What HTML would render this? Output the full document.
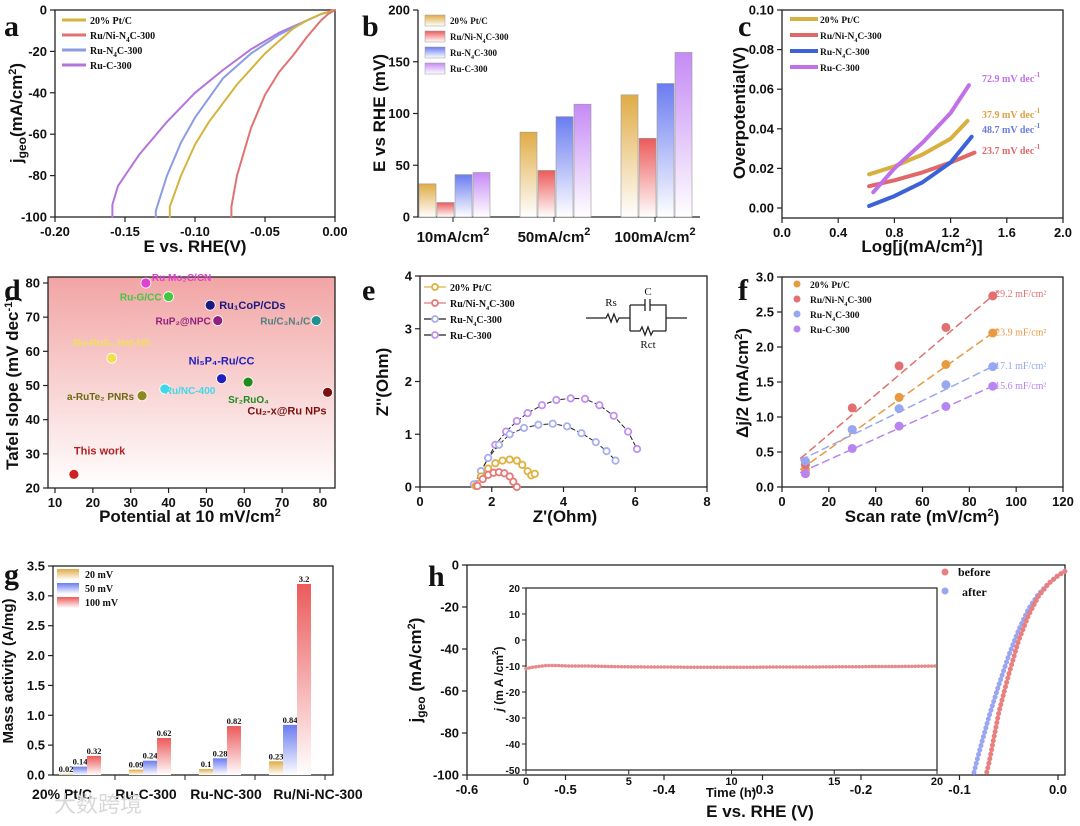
<!DOCTYPE html>
<html><head><meta charset="utf-8">
<style>
html,body{margin:0;padding:0;background:#fff;}
svg{display:block;font-family:"Liberation Sans",Arial,sans-serif;}
.ser{font-family:"Liberation Serif","Times New Roman",serif;}
</style></head>
<body>
<svg id="fig" width="1080" height="826" viewBox="0 0 1080 826" xmlns="http://www.w3.org/2000/svg">
<defs>
<linearGradient id="gGold" x1="0" y1="0" x2="0" y2="1"><stop offset="0" stop-color="#e0ac45"/><stop offset="1" stop-color="#fff"/></linearGradient>
<linearGradient id="gRed" x1="0" y1="0" x2="0" y2="1"><stop offset="0" stop-color="#ec5a5a"/><stop offset="1" stop-color="#fff"/></linearGradient>
<linearGradient id="gBlue" x1="0" y1="0" x2="0" y2="1"><stop offset="0" stop-color="#6a7cf0"/><stop offset="1" stop-color="#fff"/></linearGradient>
<linearGradient id="gPurp" x1="0" y1="0" x2="0" y2="1"><stop offset="0" stop-color="#c58af5"/><stop offset="1" stop-color="#fff"/></linearGradient>
<linearGradient id="gPink" x1="0" y1="0" x2="0" y2="1"><stop offset="0" stop-color="#f2a4a4"/><stop offset="1" stop-color="#fff"/></linearGradient>
</defs>
</svg>
<script>
// ---------- data ----------
// panel a
const aSeries = ['20% Pt/C','Ru/Ni-N4C-300','Ru-N4C-300','Ru-C-300'];
const aPtE = [0,-0.01,-0.02,-0.03,-0.05,-0.07,-0.09,-0.1,-0.11,-0.118,-0.118];
const aPtJ = [0,-2,-5,-9,-21,-36,-54,-65,-80,-95,-100];
const aNiE = [0,-0.005,-0.01,-0.02,-0.03,-0.04,-0.05,-0.06,-0.07,-0.074,-0.074];
const aNiJ = [0,-2,-5,-13,-22,-30,-41,-57,-80,-95,-100];
const aN4E = [0,-0.01,-0.02,-0.04,-0.06,-0.08,-0.1,-0.11,-0.12,-0.128,-0.128];
const aN4J = [0,-2,-5,-12,-21,-33,-52,-64,-80,-97,-100];
const aCE = [0,-0.01,-0.02,-0.04,-0.06,-0.08,-0.1,-0.12,-0.14,-0.155,-0.159,-0.159];
const aCJ = [0,-2,-5,-11,-19,-29,-40,-54,-70,-85,-94,-100];
// panel b
const bCats = ['10mA/cm²','50mA/cm²','100mA/cm²'];
const bPt = [32,82,118];
const bNi = [14,45,76];
const bN4 = [41,97,129];
const bC = [43,109,159];
// panel c
const cPtX=[0.62,0.8,1.0,1.2,1.32], cPtY=[0.017,0.021,0.027,0.035,0.044];
const cNiX=[0.62,0.8,1.0,1.2,1.37], cNiY=[0.011,0.014,0.018,0.023,0.028];
const cN4X=[0.62,0.8,1.0,1.2,1.35], cN4Y=[0.001,0.006,0.013,0.023,0.036];
const cCX=[0.65,0.8,1.0,1.2,1.33], cCY=[0.008,0.02,0.033,0.048,0.062];
const cLabels=['72.9 mV dec','37.9 mV dec','48.7 mV dec','23.7 mV dec'];
// panel d
const dNames=['This work','a-RuTe₂ PNRs','Ru/NC-400','Ru Mo₂C/CN','Ru-G/CC','Ru₁CoP/CDs','RuP₂@NPC','Ru/C₃N₄/C','Ni₅P₄-Ru/CC','Sr₂RuO₄','Cu₂-x@Ru NPs','Ru-RuS₂ Het-NS'];
const dPot=[15,33,39,34,40,51,53,79,54,61,82,25];
const dTafel=[24,47,49,80,76,73.5,69,69,52,51,48,58];
// panel e
const eCX=[1.55,1.7,1.9,2.1,2.4,2.7,3.0,3.4,3.8,4.2,4.6,5.0,5.4,5.8,6.05];
const eCY=[0.05,0.3,0.55,0.8,1.05,1.25,1.4,1.55,1.65,1.68,1.67,1.55,1.35,1.05,0.72];
const eN4X=[1.5,1.7,1.9,2.2,2.5,2.9,3.3,3.7,4.1,4.5,4.9,5.2,5.45];
const eN4Y=[0.05,0.3,0.55,0.8,1.0,1.12,1.18,1.2,1.15,1.02,0.85,0.68,0.5];
const ePtX=[1.55,1.7,1.9,2.1,2.3,2.5,2.7,2.85,3.0,3.1,3.2];
const ePtY=[0.02,0.2,0.35,0.45,0.5,0.52,0.5,0.42,0.3,0.22,0.25];
const eNiX=[1.6,1.75,1.9,2.05,2.2,2.35,2.5,2.6,2.7];
const eNiY=[0.02,0.15,0.23,0.27,0.28,0.26,0.2,0.1,0.0];
// panel f
const fRate=[10,30,50,70,90];
const fPt=[0.25,0.82,1.28,1.75,2.2];
const fNi=[0.32,1.13,1.73,2.28,2.73];
const fN4=[0.37,0.82,1.12,1.46,1.72];
const fC=[0.19,0.55,0.87,1.15,1.44];
const fLabels=['29.2 mF/cm²','23.9 mF/cm²','17.1 mF/cm²','15.6 mF/cm²'];
// panel g
const gCats=['20% Pt/C','Ru-C-300','Ru-NC-300','Ru/Ni-NC-300'];
const g20=[0.02,0.09,0.1,0.23];
const g50=[0.14,0.24,0.28,0.84];
const g100=[0.32,0.62,0.82,3.2];
// panel h
const hBefE=[0.007,0,-0.01,-0.02,-0.03,-0.04,-0.05,-0.06,-0.065,-0.07,-0.073];
const hBefJ=[-3,-5,-9,-15,-24,-36,-52,-70,-82,-94,-100];
const hAftE=[0.007,0,-0.01,-0.02,-0.03,-0.04,-0.05,-0.06,-0.07,-0.08,-0.086];
const hAftJ=[-3,-5,-9,-14,-21,-31,-43,-57,-72,-89,-100];
const hTime=[0,0.3,0.6,1,1.5,2,3,4,5,6,7,8,9,10,11,12,13,14,15,16,17,18,19,20];
const hCur=[-11,-10.5,-10.2,-9.8,-9.8,-10,-10,-10.2,-10.3,-10.4,-10.4,-10.5,-10.5,-10.5,-10.5,-10.4,-10.4,-10.4,-10.3,-10.3,-10.2,-10.2,-10.1,-10];

// ---------- helpers ----------
const NS='http://www.w3.org/2000/svg';
const svg=document.getElementById('fig');
function mk(tag,attrs,name,parent){
  const el=document.createElementNS(NS,tag);
  for(const k in attrs) el.setAttribute(k,attrs[k]);
  
  
  (parent||svg).appendChild(el);
  return el;
}
function txt(x,y,s,name,opt){
  opt=opt||{};
  const t=mk('text',{x:x,y:y,'font-size':opt.size||12,'font-weight':opt.weight||'bold','text-anchor':opt.anchor||'middle',fill:opt.fill||'#111'},name,opt.parent);
  if(opt.rot) t.setAttribute('transform','rotate(-90 '+x+' '+y+')');
  if(opt.cls) t.setAttribute('class',opt.cls);
  t.innerHTML=s;
  return t;
}
function lin(d0,d1,r0,r1){return v=>r0+(v-d0)*(r1-r0)/(d1-d0);}
function frame(L,T,R,B,name){mk('rect',{x:L,y:T,width:R-L,height:B-T,fill:'none',stroke:'#222','stroke-width':1.3},name);}
function xTicks(vals,sx,B,fmt,name,size){
  vals.forEach(v=>{const x=sx(v);
    mk('line',{x1:x,y1:B,x2:x,y2:B+5,stroke:'#222','stroke-width':1.2},name+'-tick');
    txt(x,B+19,fmt(v),name+'-label',{size:size||13});});
}
function yTicks(vals,sy,L,fmt,name,size){
  vals.forEach(v=>{const y=sy(v);
    mk('line',{x1:L-5,y1:y,x2:L,y2:y,stroke:'#222','stroke-width':1.2},name+'-tick');
    txt(L-8,y+4.5,fmt(v),name+'-label',{size:size||13,anchor:'end'});});
}
function poly(xs,ys,sx,sy,stroke,w,name,dash){
  const pts=xs.map((v,i)=>sx(v).toFixed(1)+','+sy(ys[i]).toFixed(1)).join(' ');
  const p=mk('polyline',{points:pts,fill:'none',stroke:stroke,'stroke-width':w,'stroke-linejoin':'round','stroke-linecap':'round'},name);
  if(dash) p.setAttribute('stroke-dasharray',dash);
  return p;
}
function letter(x,y,s,name){txt(x,y,s,name,{size:30,anchor:'start',cls:'ser'});}

// ---------- panel a ----------
(function(){
  const L=55,R=335,T=10,B=217;
  const sx=lin(-0.2,0,L,R), sy=lin(0,-100,T,B);
  frame(L,T,R,B,'panel-a-frame');
  xTicks([-0.2,-0.15,-0.1,-0.05,0],sx,B,v=>v.toFixed(2),'panel-a-x-tick');
  yTicks([0,-20,-40,-60,-80,-100],sy,L,v=>String(v),'panel-a-y-tick');
  const cols=['#d4b43c','#e07272','#8c9ce2','#b474dc'];
  poly(aCE,aCJ,sx,sy,cols[3],2,'series-ru-c-300');
  poly(aN4E,aN4J,sx,sy,cols[2],2,'series-ru-n4c-300');
  poly(aPtE,aPtJ,sx,sy,cols[0],2,'series-pt-c');
  poly(aNiE,aNiJ,sx,sy,cols[1],2,'series-ru-ni-n4c-300');
  const labs=['20% Pt/C','Ru/Ni-N<tspan font-size="7" dy="3">4</tspan><tspan dy="-3">C-300</tspan>','Ru-N<tspan font-size="7" dy="3">4</tspan><tspan dy="-3">C-300</tspan>','Ru-C-300'];
  labs.forEach((s,i)=>{const y=20+i*15;
    mk('line',{x1:62,y1:y,x2:86,y2:y,stroke:cols[i],'stroke-width':3},'legend-line');
    txt(90,y+4,s,'legend-entry',{size:10,anchor:'start',cls:'ser'});});
  txt(195,252,'E vs. RHE(V)','panel-a-x-title',{size:17});
  txt(22,113,'j<tspan font-size="12" dy="4">geo</tspan><tspan dy="-4">(mA/cm</tspan><tspan font-size="11" dy="-6">2</tspan><tspan dy="6">)</tspan>','panel-a-y-title',{size:17,rot:true});
  letter(4,36,'a','panel-a-letter');
})();

// ---------- panel b ----------
(function(){
  const L=418,R=700,T=10,B=217;
  const sy=lin(0,200,B,T);
  const bw=17, centers=bCats.map((c,i)=>453+i*101);
  mk('line',{x1:L,y1:T,x2:L,y2:B,stroke:'#222','stroke-width':1.3},'panel-b-y-axis');
  mk('line',{x1:L,y1:B,x2:R,y2:B,stroke:'#222','stroke-width':1.3},'panel-b-x-axis');
  yTicks([0,50,100,150,200],sy,L,v=>String(v),'panel-b-y-tick');
  const series=[bPt,bNi,bN4,bC], fills=['url(#gGold)','url(#gRed)','url(#gBlue)','url(#gPurp)'], nm=['bar-pt-c','bar-ru-ni','bar-ru-n4c','bar-ru-c'];
  bCats.forEach((c,i)=>{
    series.forEach((s,k)=>{const x=centers[i]-2*bw+k*(bw+1);
      mk('rect',{x:x,y:sy(s[i]),width:bw,height:B-sy(s[i]),fill:fills[k],stroke:'#999','stroke-width':0.6},nm[k]);});
    mk('line',{x1:centers[i],y1:B,x2:centers[i],y2:B+5,stroke:'#222'},'panel-b-x-tick');
    txt(centers[i],B+25,c.replace('²','<tspan font-size="11" dy="-7">2</tspan>'),'panel-b-category-label',{size:15});
  });
  const labs=['20% Pt/C','Ru/Ni-N<tspan font-size="6" dy="3">4</tspan><tspan dy="-3">C-300</tspan>','Ru-N<tspan font-size="6" dy="3">4</tspan><tspan dy="-3">C-300</tspan>','Ru-C-300'];
  labs.forEach((s,i)=>{const y=15+i*16;
    mk('rect',{x:425,y:y,width:20,height:11,fill:fills[i],stroke:'#999','stroke-width':0.5},'legend-swatch');
    txt(450,y+9,s,'legend-entry',{size:9,anchor:'start',cls:'ser'});});
  txt(385,113,'E vs RHE (mV)','panel-b-y-title',{size:17,rot:true});
  letter(362,36,'b','panel-b-letter');
})();

// ---------- panel c ----------
(function(){
  const L=782,R=1063,T=10,B=218;
  const sx=lin(0,2,L,R), sy=lin(0,0.1,208,T);
  frame(L,T,R,B,'panel-c-frame');
  xTicks([0,0.4,0.8,1.2,1.6,2.0],sx,B,v=>v.toFixed(1),'panel-c-x-tick');
  yTicks([0,0.02,0.04,0.06,0.08,0.1],sy,L,v=>v.toFixed(2),'panel-c-y-tick');
  const cols=['#d8b040','#e06868','#3c62d8','#c070e8'];
  poly(cPtX,cPtY,sx,sy,cols[0],4,'series-pt-c');
  poly(cNiX,cNiY,sx,sy,cols[1],4,'series-ru-ni-n4c-300');
  poly(cN4X,cN4Y,sx,sy,cols[2],4,'series-ru-n4c-300');
  poly(cCX,cCY,sx,sy,cols[3],4,'series-ru-c-300');
  const labs=['20% Pt/C','Ru/Ni-N<tspan font-size="6" dy="3">4</tspan><tspan dy="-3">C-300</tspan>','Ru-N<tspan font-size="6" dy="3">4</tspan><tspan dy="-3">C-300</tspan>','Ru-C-300'];
  labs.forEach((s,i)=>{const y=19+i*16;
    mk('line',{x1:790,y1:y,x2:818,y2:y,stroke:cols[i],'stroke-width':4},'legend-line');
    txt(820,y+4,s,'legend-entry',{size:9.5,anchor:'start',cls:'ser'});});
  const ly=[82,118,133,154], lc=[cols[3],'#e0a040','#6a7ce0',cols[1]];
  cLabels.forEach((s,i)=>txt(982,ly[i],s+'<tspan font-size="7" dy="-5">-1</tspan>','tafel-slope-label',{size:10,fill:lc[i],cls:'ser',anchor:'start'}));
  txt(922,252,'Log[j(mA/cm<tspan font-size="11" dy="-6">2</tspan><tspan dy="6">)]</tspan>','panel-c-x-title',{size:17});
  txt(745,113,'Overpotential(V)','panel-c-y-title',{size:17,rot:true});
  letter(738,36,'c','panel-c-letter');
})();

// ---------- panel d ----------
(function(){
  const L=48,R=335,T=277,B=488;
  const sx=lin(10,80,55,320), sy=lin(20,80,B,283);
  mk('rect',{x:L,y:T,width:R-L,height:B-T,fill:'url(#gPink)'},'panel-d-background');
  frame(L,T,R,B,'panel-d-frame');
  xTicks([10,20,30,40,50,60,70,80],sx,B,v=>String(v),'panel-d-x-tick');
  yTicks([20,30,40,50,60,70,80],sy,L,v=>String(v),'panel-d-y-tick');
  const cols=['#cc2222','#8a8a20','#40d8e8','#e040d0','#40c840','#1a1a80','#902080','#209090','#2020c0','#208a20','#7a1010','#f0e050'];
  const lab=[[0,-20,'start'],[-8,4,'end'],[0,5,'start'],[6,-2,'start'],[-7,4,'end'],[9,4,'start'],[-7,4,'end'],[-6,4,'end'],[0,-14,'middle'],[-20,21,'start'],[-1,22,'end'],[0,-12,'middle']];
  const lfill=['#b02020','#6a6a10','#40d8e8','#e040d0','#40c840','#1a1a80','#902080','#508080','#2020c0','#208a20','#7a1010','#f0e060'];
  dNames.forEach((n,i)=>{const x=sx(dPot[i]), y=sy(dTafel[i]);
    mk('circle',{cx:x,cy:y,r:5,fill:cols[i],stroke:'#fff','stroke-width':0.8},'comparison-point');
    txt(x+lab[i][0],y+lab[i][1],n,'comparison-label',{size:i===0||i===5||i===8||i===10?11:10,anchor:lab[i][2],fill:lfill[i]});});
  txt(190,522,'Potential at 10 mV/cm<tspan font-size="11" dy="-6">2</tspan>','panel-d-x-title',{size:17});
  txt(18,383,'Tafel slope (mV dec<tspan font-size="11" dy="-6">-1</tspan><tspan dy="6">)</tspan>','panel-d-y-title',{size:17,rot:true});
  letter(4,300,'d','panel-d-letter');
})();

// ---------- panel e ----------
(function(){
  const L=420,R=707,T=276,B=487;
  const sx=lin(0,8,L,R), sy=lin(0,4,B,T);
  frame(L,T,R,B,'panel-e-frame');
  xTicks([0,2,4,6,8],sx,B,v=>String(v),'panel-e-x-tick');
  yTicks([0,1,2,3,4],sy,L,v=>String(v),'panel-e-y-tick');
  const cols=['#e0b040','#e87878','#a8b0f0','#c090f0'];
  const sets=[[eCX,eCY,3,'series-ru-c-300'],[eN4X,eN4Y,2,'series-ru-n4c-300'],[ePtX,ePtY,0,'series-pt-c'],[eNiX,eNiY,1,'series-ru-ni-n4c-300']];
  sets.forEach(s=>{
    poly(s[0],s[1],sx,sy,s[2]>=2?'#222':cols[s[2]],1,s[3]+'-line',s[2]>=2?'4,3':null);
    s[0].forEach((v,i)=>mk('circle',{cx:sx(v),cy:sy(s[1][i]),r:3.2,fill:'#fff',stroke:cols[s[2]],'stroke-width':1.8},s[3]+'-point'));});
  const labs=['20% Pt/C','Ru/Ni-N<tspan font-size="6" dy="3">4</tspan><tspan dy="-3">C-300</tspan>','Ru-N<tspan font-size="6" dy="3">4</tspan><tspan dy="-3">C-300</tspan>','Ru-C-300'];
  labs.forEach((s,i)=>{const y=287+i*16;
    mk('line',{x1:424,y1:y,x2:446,y2:y,stroke:i>=2?'#222':cols[i],'stroke-width':1.3},'legend-line');
    mk('circle',{cx:435,cy:y,r:3,fill:'#fff',stroke:cols[i],'stroke-width':1.8},'legend-marker');
    txt(450,y+4,s,'legend-entry',{size:10,anchor:'start',cls:'ser'});});
  const c=mk('g',{stroke:'#222','stroke-width':1.3,fill:'none'},'equivalent-circuit');
  mk('path',{d:'M586 318 H606 l2 -4 l3 8 l3 -8 l3 8 l2 -4 H630 M630 305 V331 M630 305 H645 M645 299 V311 M650 299 V311 M650 305 H666 V331 M630 331 H640 l2 -4 l3 8 l3 -8 l3 8 l2 -4 H666 M666 318 H687'},'circuit-wires',c);
  txt(611,306,'Rs','circuit-rs-label',{size:11,weight:'normal',cls:'ser'});
  txt(648,295,'C','circuit-c-label',{size:11,weight:'normal',cls:'ser'});
  txt(648,348,'Rct','circuit-rct-label',{size:11,weight:'normal',cls:'ser'});
  txt(565,522,"Z'(Ohm)",'panel-e-x-title',{size:17});
  txt(388,382,"Z''(Ohm)",'panel-e-y-title',{size:17,rot:true});
  letter(362,300,'e','panel-e-letter');
})();

// ---------- panel f ----------
(function(){
  const L=782,R=1063,T=277,B=487;
  const sx=lin(0,120,L,R), sy=lin(0,3,B,T);
  frame(L,T,R,B,'panel-f-frame');
  xTicks([0,20,40,60,80,100,120],sx,B,v=>String(v),'panel-f-x-tick');
  yTicks([0,0.5,1,1.5,2,2.5,3],sy,L,v=>v.toFixed(1),'panel-f-y-tick');
  const cols=['#e89a40','#e27070','#98a8f0','#b884f0'];
  const ser=[fPt,fNi,fN4,fC], nm=['series-pt-c','series-ru-ni-n4c-300','series-ru-n4c-300','series-ru-c-300'];
  ser.forEach((s,k)=>{
    const ex=[fRate[0]-2,fRate[fRate.length-1]+2];
    const slope=(s[s.length-1]-s[0])/(fRate[fRate.length-1]-fRate[0]);
    const ey=[s[0]-2*slope+(k===1?0.15:0.05),s[s.length-1]+2*slope];
    poly(ex,ey,sx,sy,cols[k],1.5,nm[k]+'-fit','7,5');
    fRate.forEach((r,i)=>mk('circle',{cx:sx(r),cy:sy(s[i]),r:4.5,fill:cols[k]},nm[k]+'-point'));
  });
  const lc=['#e27070','#e89a40','#98a8f0','#b884f0'], ly=[2.77,2.22,1.74,1.46];
  fLabels.forEach((s,i)=>txt(sx(91),sy(ly[i])+4,s,'capacitance-label',{size:10,anchor:'start',fill:lc[i],weight:'normal',cls:'ser'}));
  const labs=['20% Pt/C','Ru/Ni-N<tspan font-size="6" dy="3">4</tspan><tspan dy="-3">C-300</tspan>','Ru-N<tspan font-size="6" dy="3">4</tspan><tspan dy="-3">C-300</tspan>','Ru-C-300'];
  labs.forEach((s,i)=>{const y=284+i*15;
    mk('circle',{cx:797,cy:y,r:3.5,fill:cols[i]},'legend-marker');
    txt(810,y+4,s,'legend-entry',{size:9.5,anchor:'start',cls:'ser'});});
  txt(922,522,'Scan rate (mV/cm<tspan font-size="11" dy="-6">2</tspan><tspan dy="6">)</tspan>','panel-f-x-title',{size:17});
  txt(748,383,'Δj/2 (mA/cm<tspan font-size="11" dy="-6">2</tspan><tspan dy="6">)</tspan>','panel-f-y-title',{size:17,rot:true});
  letter(738,300,'f','panel-f-letter');
})();

// ---------- panel g ----------
(function(){
  const L=53,R=333,T=566,B=775;
  const sy=lin(0,3.5,B,T);
  frame(L,T,R,B,'panel-g-frame');
  yTicks([0,0.5,1,1.5,2,2.5,3,3.5],sy,L,v=>v.toFixed(1),'panel-g-y-tick');
  const bw=14, ser=[g20,g50,g100], fills=['url(#gGold)','url(#gBlue)','url(#gRed)'], nm=['bar-20mv','bar-50mv','bar-100mv'];
  const labX=[62,146,226,318];
  gCats.forEach((c,i)=>{const cx=80+i*70;
    ser.forEach((s,k)=>{const x=cx-21+k*bw;
      mk('rect',{x:x,y:sy(s[i]),width:bw,height:B-sy(s[i]),fill:fills[k]},nm[k]);
      txt(x+bw/2,sy(s[i])-2,String(s[i]),'bar-value-label',{size:8.5,cls:'ser'});});
    mk('line',{x1:cx+35,y1:B,x2:cx+35,y2:B+5,stroke:'#222'},'panel-g-x-tick');
    txt(labX[i],B+24,c,'panel-g-category-label',{size:14});
  });
  const labs=['20 mV','50 mV','100 mV'];
  labs.forEach((s,i)=>{const y=569+i*14;
    mk('rect',{x:57,y:y,width:22,height:11,fill:fills[i]},'legend-swatch');
    txt(85,y+9,s,'legend-entry',{size:10,anchor:'start',cls:'ser'});});
  txt(13,671,'Mass activity (A/mg)','panel-g-y-title',{size:15,rot:true});
  letter(4,584,'g','panel-g-letter');
  txt(54,812,'大数跨境','watermark',{size:22,weight:'normal',fill:'#d8d8d8',anchor:'start',cls:''}).setAttribute('font-family','"Liberation Sans","Noto Sans CJK SC",sans-serif');
})();

// ---------- panel h ----------
(function(){
  const L=467,R=1065,T=565,B=775;
  const sx=lin(-0.6,0,L,1058), sy=lin(0,-100,T,B);
  frame(L,T,R,B,'panel-h-frame');
  xTicks([-0.6,-0.5,-0.4,-0.3,-0.2,-0.1,0],sx,B,v=>v.toFixed(1),'panel-h-x-tick');
  yTicks([0,-20,-40,-60,-80,-100],sy,L,v=>String(v),'panel-h-y-tick');
  poly(hAftE,hAftJ,sx,sy,'#9aa6f0',5,'series-after','0.1,4.5');
  poly(hBefE,hBefJ,sx,sy,'#e88080',5,'series-before','0.1,4.5');
  mk('circle',{cx:945,cy:572,r:3.5,fill:'#e88080'},'legend-marker-before');
  txt(958,576,'before','legend-entry-before',{size:12,anchor:'start',cls:'ser'});
  mk('circle',{cx:945,cy:591,r:3.5,fill:'#9aa6f0'},'legend-marker-after');
  txt(962,596,'after','legend-entry-after',{size:12,anchor:'start',cls:'ser'});
  const iL=526,iR=937,iT=588,iB=770;
  const ix=lin(0,20,iL,iR), iy=lin(20,-50,iT,iB);
  mk('rect',{x:iL,y:iT,width:iR-iL,height:iB-iT,fill:'#fff',stroke:'#222','stroke-width':1.2},'inset-frame');
  [20,10,0,-10,-20,-30,-40,-50].forEach(v=>{const y=iy(v);
    mk('line',{x1:iL-4,y1:y,x2:iL,y2:y,stroke:'#222'},'inset-y-tick');
    txt(iL-6,y+4,String(v),'inset-y-tick-label',{size:10,anchor:'end'});});
  [0,5,10,15,20].forEach(v=>{const x=ix(v);
    mk('line',{x1:x,y1:iB,x2:x,y2:iB+4,stroke:'#222'},'inset-x-tick');
    txt(x,iB+15,String(v),'inset-x-tick-label',{size:11});});
  poly(hTime,hCur,ix,iy,'#e88a8a',3.5,'inset-stability-series','0.1,3.2');
  txt(731,797,'Time (h)','inset-x-title',{size:13});
  txt(503,679,'<tspan font-style="italic">j</tspan> (m A /cm<tspan font-size="8" dy="-5">2</tspan><tspan dy="5">)</tspan>','inset-y-title',{size:12,rot:true});
  txt(760,817,'E vs. RHE (V)','panel-h-x-title',{size:17});
  txt(421,670,'j<tspan font-size="12" dy="4">geo</tspan><tspan dy="-4"> (mA/cm</tspan><tspan font-size="11" dy="-6">2</tspan><tspan dy="6">)</tspan>','panel-h-y-title',{size:17,rot:true});
  letter(428,586,'h','panel-h-letter');
})();
</script>
</body></html>
